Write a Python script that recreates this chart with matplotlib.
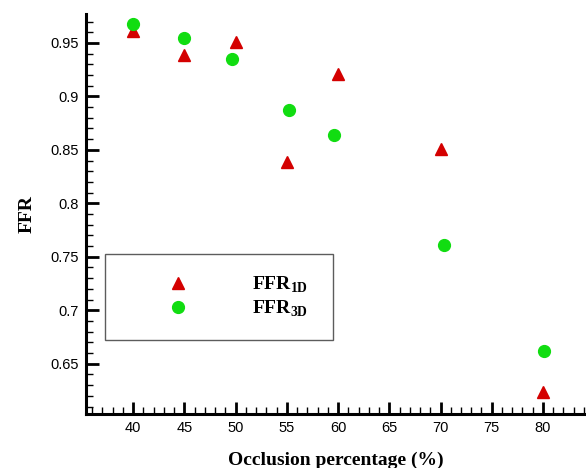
import matplotlib
matplotlib.use('Agg')
import matplotlib.pyplot as plt
from matplotlib.ticker import MultipleLocator

# FFR values
occ_1d = [40, 45, 50, 55, 60, 70, 80]
ffr_1d = [0.961, 0.939, 0.951, 0.839, 0.921, 0.851, 0.624]

occ_3d = [40, 45, 49.6, 55.2, 59.6, 70.3, 80.1]
ffr_3d = [0.968, 0.955, 0.935, 0.887, 0.864, 0.761, 0.662]

x_ticks = [40, 45, 50, 55, 60, 65, 70, 75, 80]
y_ticks = [0.65, 0.7, 0.75, 0.8, 0.85, 0.9, 0.95]
y_tick_labels = ['0.65', '0.7', '0.75', '0.8', '0.85', '0.9', '0.95']

plt.rcParams['mathtext.fontset'] = 'custom'
plt.rcParams['mathtext.rm'] = 'Liberation Serif'
plt.rcParams['mathtext.bf'] = 'Liberation Serif:bold'

fig = plt.figure(figsize=(5.86, 4.68), dpi=100)
ax = fig.add_axes([0.1468, 0.1154, 0.8532, 0.8546])

ax.plot(occ_1d, ffr_1d, linestyle='none', marker='^', markersize=9,
        color='#d40000', label=r'$\mathbf{FFR}_{\mathbf{1D}}$')
ax.plot(occ_3d, ffr_3d, linestyle='none', marker='o', markersize=8.5,
        color='#11dd11', label=r'$\mathbf{FFR}_{\mathbf{3D}}$')

ax.set_xlim(35.4, 84.2)
ax.set_ylim(0.603, 0.977)
ax.set_xticks(x_ticks)
ax.set_yticks(y_ticks)
ax.set_yticklabels(y_tick_labels)
ax.xaxis.set_minor_locator(MultipleLocator(1))
ax.yaxis.set_minor_locator(MultipleLocator(0.01))

# tecplot-ish look: only left/bottom spines, ticks pointing inward
for side in ['top', 'right']:
    ax.spines[side].set_visible(False)
for side in ['left', 'bottom']:
    ax.spines[side].set_linewidth(2.2)
ax.tick_params(which='major', direction='in', length=9, width=2,
               labelsize=10.5, labelfontfamily='Liberation Sans', pad=5)
ax.tick_params(which='minor', direction='in', length=5, width=1)

ax.set_xlabel('Occlusion percentage (%)', fontsize=14, fontweight='bold',
              family='Liberation Serif', labelpad=12)
ax.set_ylabel('FFR', fontsize=14, fontweight='bold',
              family='Liberation Serif', labelpad=11)

leg = ax.legend(loc='lower left', bbox_to_anchor=(0.038, 0.185, 0.456, 0.2125),
                mode='expand', borderaxespad=0, fancybox=False, fontsize=14,
                borderpad=1.1, handlelength=5.3, handletextpad=1.14,
                labelspacing=0.15)
leg.get_frame().set_edgecolor('#333333')
leg.get_frame().set_linewidth(1.0)

fig.savefig('out.png', dpi=100)
